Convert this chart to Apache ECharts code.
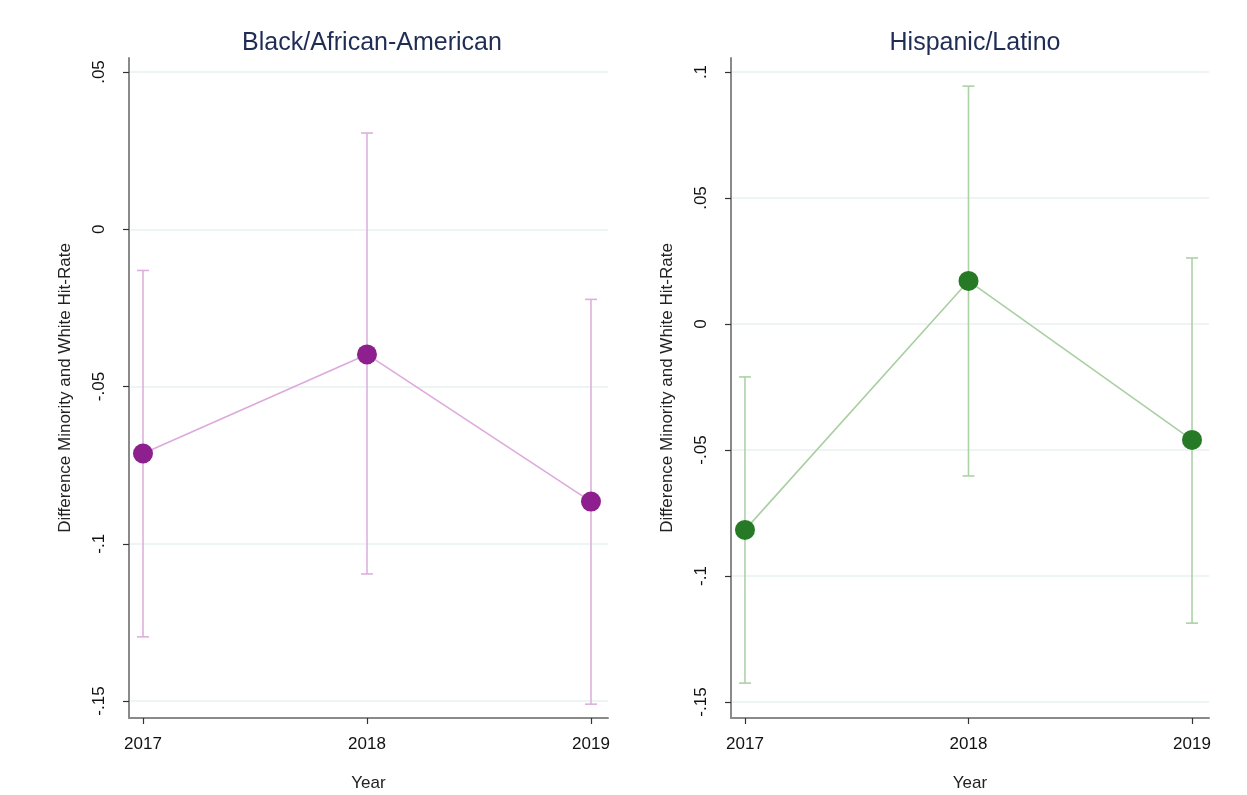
<!DOCTYPE html>
<html>
<head>
<meta charset="utf-8">
<script src="https://cdn.jsdelivr.net/npm/echarts@6/dist/echarts.min.js"></script>
<style>
  html, body { margin: 0; padding: 0; background: #fff; }
  #chart { width: 1247px; height: 795px; }
</style>
</head>
<body>
<div id="chart"></div>
<script>
// Survey years shown on both panels
const years = [2017, 2018, 2019];

// Black/African-American: estimate and 95% interval of the hit-rate gap
const blackEst = [-0.0713, -0.0398, -0.0866];
const blackLo  = [-0.1296, -0.1096, -0.1510];
const blackHi  = [-0.0131,  0.0306, -0.0223];

// Hispanic/Latino: estimate and 95% interval of the hit-rate gap
const hispEst = [-0.0817,  0.0171, -0.0460];
const hispLo  = [-0.1425, -0.0603, -0.1187];
const hispHi  = [-0.0210,  0.0944,  0.0262];

// Tick values for each panel's y axis
const blackTicks = [-0.15, -0.1, -0.05, 0, 0.05];
const hispTicks  = [-0.15, -0.1, -0.05, 0, 0.05, 0.1];

const panelTitles = ['Black/African-American', 'Hispanic/Latino'];
const yTitle = 'Difference Minority and White Hit-Rate';
const xTitle = 'Year';

const FONT = 'Liberation Sans, Arial, sans-serif';

// Stata-style number labels: ".05", "-.1", "0"
function stataFmt(v) {
  const r = Math.round(v * 1000) / 1000;
  if (r === 0) return '0';
  let s = String(Math.abs(r)).replace(/^0\./, '.');
  return (r < 0 ? '-' : '') + s;
}

function xAxisFor(gi) {
  return {
    type: 'value', gridIndex: gi,
    min: 2016.9375, max: 2019.0760,
    name: xTitle, nameLocation: 'middle', nameGap: 57,
    nameTextStyle: { fontFamily: FONT, fontSize: 17, color: '#222' },
    axisLine: { show: true, onZero: false, lineStyle: { color: '#8a8a8a', width: 2 } },
    axisTick: { show: true, length: 6, customValues: years, lineStyle: { color: '#333', width: 1.2 } },
    axisLabel: { customValues: years, margin: 18, fontFamily: FONT, fontSize: 17, color: '#111',
                 formatter: v => String(Math.round(v)) },
    splitLine: { show: false }
  };
}

function yAxisFor(gi, min, max, ticks) {
  return {
    type: 'value', gridIndex: gi, min: min, max: max,
    name: yTitle, nameLocation: 'middle', nameGap: 55,
    nameTextStyle: { fontFamily: FONT, fontSize: 17, color: '#222' },
    axisLine: { show: true, onZero: false, lineStyle: { color: '#8a8a8a', width: 2 } },
    axisTick: { show: true, length: 6, customValues: ticks, lineStyle: { color: '#333', width: 1.2 } },
    axisLabel: { customValues: ticks, rotate: 90, margin: 21, fontFamily: FONT, fontSize: 17,
                 color: '#111', formatter: stataFmt },
    splitLine: { show: true, lineStyle: { color: '#e8f1f1', width: 1.5 } }
  };
}

// Vertical interval with caps at both ends
function errorBars(gi, lo, hi, color) {
  const data = years.map((y, i) => [y, lo[i], hi[i]]);
  return {
    type: 'custom', xAxisIndex: gi, yAxisIndex: gi, silent: true, z: 2,
    data: data,
    renderItem: function (params, api) {
      const x = api.value(0);
      const pLo = api.coord([x, api.value(1)]);
      const pHi = api.coord([x, api.value(2)]);
      const half = 6;
      const style = { stroke: color, lineWidth: 1.6 };
      return {
        type: 'group',
        children: [
          { type: 'line', shape: { x1: pLo[0], y1: pLo[1], x2: pHi[0], y2: pHi[1] }, style: style },
          { type: 'line', shape: { x1: pLo[0] - half, y1: pLo[1], x2: pLo[0] + half, y2: pLo[1] }, style: style },
          { type: 'line', shape: { x1: pHi[0] - half, y1: pHi[1], x2: pHi[0] + half, y2: pHi[1] }, style: style }
        ]
      };
    }
  };
}

function estimateLine(gi, est, lineColor, dotColor) {
  return {
    type: 'line', xAxisIndex: gi, yAxisIndex: gi, z: 3,
    data: years.map((y, i) => [y, est[i]]),
    symbol: 'circle', symbolSize: 20,
    lineStyle: { color: lineColor, width: 1.6 },
    itemStyle: { color: dotColor, borderWidth: 0 },
    emphasis: { disabled: true }
  };
}

const chart = echarts.init(document.getElementById('chart'), null, { renderer: 'canvas' });
chart.setOption({
  backgroundColor: '#ffffff',
  animation: false,
  title: [
    { text: panelTitles[0], left: 367, top: 26, textAlign: 'center',
      textStyle: { fontFamily: FONT, fontSize: 25, fontWeight: 'normal', color: '#1f2d55' } },
    { text: panelTitles[1], left: 970, top: 26, textAlign: 'center',
      textStyle: { fontFamily: FONT, fontSize: 25, fontWeight: 'normal', color: '#1f2d55' } }
  ],
  grid: [
    { left: 129, top: 58, width: 479, height: 660, outerBoundsMode: 'none', containLabel: false },
    { left: 731, top: 58, width: 478, height: 660, outerBoundsMode: 'none', containLabel: false }
  ],
  xAxis: [xAxisFor(0), xAxisFor(1)],
  yAxis: [
    yAxisFor(0, -0.1554, 0.05445, blackTicks),
    yAxisFor(1, -0.15635, 0.10556, hispTicks)
  ],
  series: [
    errorBars(0, blackLo, blackHi, '#dcb0de'),
    estimateLine(0, blackEst, '#dcaadc', '#8e1f8e'),
    errorBars(1, hispLo, hispHi, '#add2a8'),
    estimateLine(1, hispEst, '#a9cfa3', '#267a26')
  ]
});
</script>
</body>
</html>
